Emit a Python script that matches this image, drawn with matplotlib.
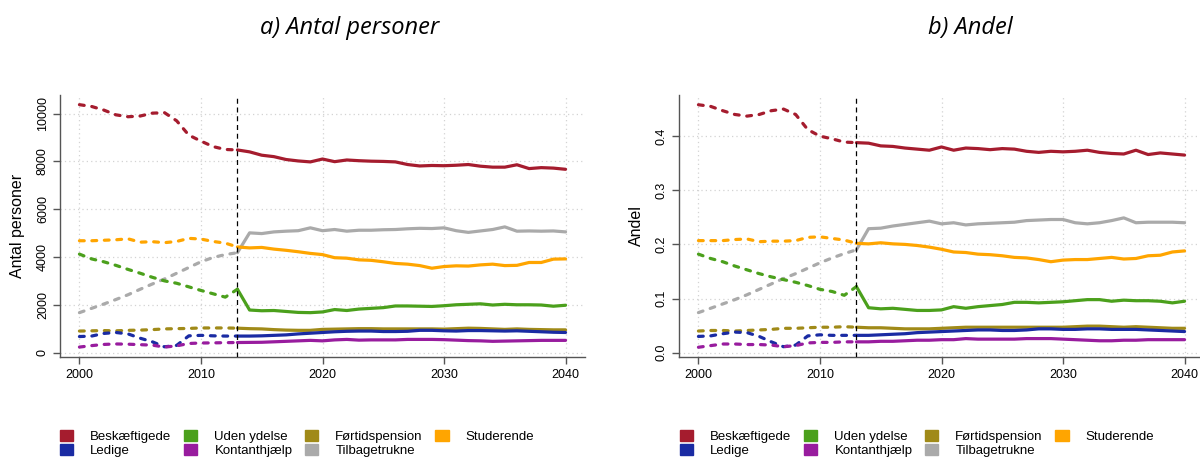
import numpy as np
import matplotlib
matplotlib.use("Agg")
import matplotlib.pyplot as plt
from matplotlib.patches import Patch

plt.rcParams['font.family'] = ['Liberation Sans', 'DejaVu Sans']

#  Years
years = np.arange(2000, 2041)
split_year = 2013

#  Series names and colours
names = ["Beskæftigede", "Ledige", "Uden ydelse", "Kontanthjælp",
         "Førtidspension", "Tilbagetrukne", "Studerende"]
colors = ["#A51C2E", "#1A2BA3", "#4BA01C", "#981C9E",
          "#A08A18", "#AAAAAA", "#FFA500"]

#  a) Antal personer, 2000-2040
besk_antal = [10375, 10300, 10150, 9950, 9870, 9900, 10020, 10040, 9700, 9100, 8850, 8620, 8500, 8480,
              8400, 8260, 8200, 8080, 8020, 7980, 8100, 7990, 8060, 8030, 8010, 8000, 7980, 7870, 7810,
              7830, 7820, 7840, 7870, 7800, 7760, 7760, 7860, 7700, 7740, 7720, 7670]
ledige_antal = [670, 690, 800, 840, 780, 600, 450, 240, 300, 700, 720, 700, 690, 690,
                690, 700, 720, 740, 780, 810, 840, 870, 890, 900, 900, 880, 880, 890, 930,
                930, 910, 900, 920, 920, 910, 900, 910, 890, 870, 850, 840]
uden_antal = [4120, 3920, 3800, 3650, 3480, 3320, 3150, 3000, 2900, 2750, 2600, 2460, 2320, 2650,
              1780, 1750, 1760, 1720, 1680, 1670, 1700, 1800, 1760, 1820, 1850, 1880, 1950, 1950, 1940,
              1930, 1960, 2000, 2020, 2040, 1990, 2020, 2000, 2000, 1990, 1940, 1980]
kontant_antal = [230, 290, 340, 360, 350, 330, 310, 230, 280, 380, 400, 405, 415, 420,
                 425, 430, 450, 470, 490, 510, 490, 530, 550, 520, 530, 530, 530, 550, 550,
                 550, 540, 520, 500, 490, 470, 480, 490, 500, 510, 510, 510]
fortid_antal = [900, 910, 920, 910, 930, 940, 960, 990, 1000, 1010, 1030, 1030, 1030, 1020,
                1000, 990, 960, 940, 930, 930, 970, 980, 990, 1000, 1000, 990, 990, 990, 990,
                990, 980, 1000, 1020, 1010, 990, 970, 990, 970, 960, 950, 950]
tilbage_antal = [1670, 1850, 2030, 2220, 2420, 2650, 2870, 3080, 3320, 3560, 3800, 3980, 4100, 4180,
                 5010, 4980, 5050, 5080, 5100, 5220, 5100, 5150, 5080, 5120, 5120, 5140, 5150, 5180, 5200,
                 5190, 5220, 5100, 5030, 5090, 5150, 5260, 5080, 5090, 5080, 5090, 5050]
stud_antal = [4680, 4680, 4700, 4720, 4760, 4620, 4640, 4600, 4650, 4780, 4750, 4650, 4580, 4420,
              4380, 4400, 4330, 4280, 4220, 4150, 4100, 3970, 3950, 3880, 3860, 3800, 3730, 3700, 3640,
              3530, 3600, 3630, 3620, 3670, 3700, 3640, 3650, 3770, 3770, 3910, 3920]

#  b) Andel, 2000-2040
besk_andel = [0.458, 0.455, 0.447, 0.440, 0.437, 0.440, 0.447, 0.450, 0.440, 0.412, 0.400, 0.395, 0.389, 0.388,
              0.387, 0.382, 0.381, 0.378, 0.376, 0.374, 0.380, 0.374, 0.378, 0.377, 0.375, 0.377, 0.376, 0.372,
              0.370, 0.372, 0.371, 0.372, 0.374, 0.370, 0.368, 0.367, 0.374, 0.366, 0.369, 0.367, 0.365]
ledige_andel = [0.030, 0.031, 0.035, 0.038, 0.037, 0.030, 0.020, 0.011, 0.014, 0.031, 0.033, 0.032, 0.032, 0.032,
                0.032, 0.033, 0.034, 0.035, 0.037, 0.038, 0.039, 0.040, 0.041, 0.042, 0.042, 0.041, 0.041, 0.042,
                0.044, 0.044, 0.043, 0.043, 0.044, 0.044, 0.043, 0.043, 0.043, 0.042, 0.041, 0.040, 0.039]
uden_andel = [0.182, 0.174, 0.168, 0.160, 0.153, 0.146, 0.140, 0.135, 0.130, 0.124, 0.117, 0.113, 0.106, 0.122,
              0.083, 0.081, 0.082, 0.080, 0.078, 0.078, 0.079, 0.085, 0.082, 0.085, 0.087, 0.089, 0.093, 0.093,
              0.092, 0.093, 0.094, 0.096, 0.098, 0.098, 0.095, 0.097, 0.096, 0.096, 0.095, 0.092, 0.095]
kontant_andel = [0.010, 0.013, 0.016, 0.016, 0.015, 0.015, 0.014, 0.011, 0.013, 0.018, 0.019, 0.019, 0.020, 0.020,
                 0.020, 0.021, 0.021, 0.022, 0.023, 0.023, 0.024, 0.024, 0.026, 0.025, 0.025, 0.025, 0.025, 0.026,
                 0.026, 0.026, 0.025, 0.024, 0.023, 0.022, 0.022, 0.023, 0.023, 0.024, 0.024, 0.024, 0.024]
fortid_andel = [0.040, 0.041, 0.041, 0.040, 0.041, 0.042, 0.043, 0.045, 0.045, 0.046, 0.047, 0.047, 0.048, 0.047,
                0.046, 0.046, 0.045, 0.044, 0.044, 0.044, 0.045, 0.046, 0.047, 0.047, 0.047, 0.047, 0.047, 0.047,
                0.047, 0.047, 0.047, 0.048, 0.049, 0.049, 0.048, 0.047, 0.048, 0.047, 0.046, 0.045, 0.045]
tilbage_andel = [0.074, 0.082, 0.090, 0.098, 0.107, 0.117, 0.127, 0.137, 0.146, 0.156, 0.166, 0.175, 0.183, 0.190,
                 0.229, 0.230, 0.234, 0.237, 0.240, 0.243, 0.238, 0.240, 0.236, 0.238, 0.239, 0.240, 0.241, 0.244,
                 0.245, 0.246, 0.246, 0.240, 0.238, 0.240, 0.244, 0.249, 0.240, 0.241, 0.241, 0.241, 0.240]
stud_andel = [0.207, 0.207, 0.207, 0.209, 0.210, 0.205, 0.206, 0.206, 0.207, 0.213, 0.214, 0.211, 0.208, 0.202,
              0.201, 0.203, 0.201, 0.200, 0.198, 0.195, 0.191, 0.186, 0.185, 0.182, 0.181, 0.179, 0.176, 0.175,
              0.172, 0.168, 0.171, 0.172, 0.172, 0.174, 0.176, 0.173, 0.174, 0.179, 0.180, 0.186, 0.188]

antal = [besk_antal, ledige_antal, uden_antal, kontant_antal, fortid_antal, tilbage_antal, stud_antal]
andel = [besk_andel, ledige_andel, uden_andel, kontant_andel, fortid_andel, tilbage_andel, stud_andel]

#  Draw order (back to front) similar to the original
draw_order = [0, 5, 6, 2, 4, 1, 3]


def panel(ax, series, yticks, ytick_labels, ylim, ylabel):
    hist = years <= split_year
    proj = years >= split_year
    for i in draw_order:
        y = np.array(series[i])
        ax.plot(years[hist], y[hist], color=colors[i], lw=2.3, dashes=(1.5, 2.4),
                dash_capstyle="round", solid_joinstyle="round", zorder=3)
    for i in draw_order:
        y = np.array(series[i])
        ax.plot(years[proj], y[proj], color=colors[i], lw=2.3,
                solid_capstyle="round", solid_joinstyle="round", zorder=4)
    ax.axvline(split_year, color="black", lw=0.9, ls=(0, (4, 3)), zorder=5)

    ax.set_xlim(1998.4, 2041.6)
    ax.set_ylim(*ylim)
    ax.set_xticks([2000, 2010, 2020, 2030, 2040])
    ax.set_yticks(yticks)
    ax.set_yticklabels(ytick_labels, rotation=90, va="center")
    ax.grid(True, color="#D3D3D3", ls=(0, (1, 2.5)), lw=0.9)
    ax.set_axisbelow(True)
    for s in ["top", "right"]:
        ax.spines[s].set_visible(False)
    for s in ["left", "bottom"]:
        ax.spines[s].set_color("#555555")
        ax.spines[s].set_linewidth(1.0)
    ax.tick_params(colors="#555555", labelcolor="black", length=5, width=1.0,
                   labelsize=9, direction="out")
    ax.tick_params(axis="y", pad=3)
    ax.set_ylabel(ylabel, fontsize=11.5)
    ax.yaxis.set_label_coords(-0.066, 0.5)


fig = plt.figure(figsize=(12, 4.57), dpi=100)
ax1 = fig.add_axes([60 / 1200, 1 - 357 / 457, 525 / 1200, 262 / 457])
ax2 = fig.add_axes([679 / 1200, 1 - 357 / 457, 525 / 1200, 262 / 457])

panel(ax1, antal, [0, 2000, 4000, 6000, 8000, 10000],
      ["0", "2000", "4000", "6000", "8000", "10000"], (-186, 10780), "Antal personer")
panel(ax2, andel, [0.0, 0.1, 0.2, 0.3, 0.4],
      ["0.0", "0.1", "0.2", "0.3", "0.4"], (-0.008, 0.476), "Andel")

fig.text(350 / 1200, 1 - 34 / 457, "a) Antal personer", ha="center", va="baseline",
         fontsize=17, style="italic", family="Open Sans")
fig.text(970 / 1200, 1 - 34 / 457, "b) Andel", ha="center", va="baseline",
         fontsize=17, style="italic", family="Open Sans")

#  Legends (column-major order gives the same rows as the original)
handles = [Patch(facecolor=c, edgecolor=c) for c in colors]
for x0 in [60, 680]:
    fig.legend(handles, names, ncol=4, loc="upper left",
               bbox_to_anchor=(x0 / 1200, 1 - 429.5 / 457), frameon=False,
               fontsize=9.5, handlelength=1.0, handleheight=0.95, handletextpad=1.3,
               columnspacing=0.95, labelspacing=0.1, borderpad=0, borderaxespad=0)

fig.savefig("out.png", dpi=100)
